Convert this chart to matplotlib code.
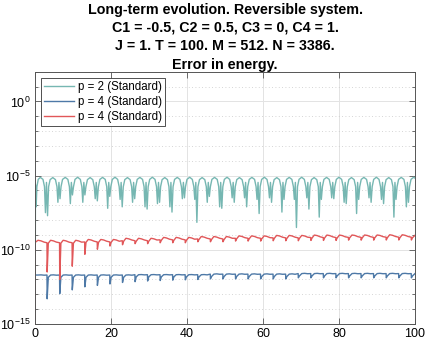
import matplotlib
matplotlib.use("Agg")
import matplotlib.pyplot as plt
from matplotlib.ticker import FixedLocator, NullFormatter

plt.rcParams['font.family'] = ['Liberation Sans', 'DejaVu Sans']
plt.rcParams['mathtext.fontset'] = 'custom'
plt.rcParams['mathtext.rm'] = 'Liberation Sans'
plt.rcParams['mathtext.it'] = 'Liberation Sans'
plt.rcParams['mathtext.default'] = 'regular'

title_lines = ["Long-term evolution. Reversible system.",
               "C1 = -0.5, C2 = 0.5, C3 = 0, C4 = 1.",
               "J = 1. T = 100. M = 512. N = 3386.",
               "Error in energy."]
legend_labels = ["p = 2 (Standard)", "p = 4 (Standard)", "p = 4 (Standard)"]
xticks = [0, 20, 40, 60, 80, 100]
yticks = [1e-15, 1e-10, 1e-5, 1e0]
ytick_labels = ["$10^{-15}$", "$10^{-10}$", "$10^{-5}$", "$10^{0}$"]

# p = 2 (teal)
teal_t = [0.0, 0.12, 0.3,
          0.5, 0.85, 1.4, 2.1, 2.5, 2.75, 3.02, 3.3,
          3.58, 3.98, 4.68, 5.38, 5.78, 6.03, 6.3, 6.58,
          6.85, 7.25, 7.95, 8.65, 9.05, 9.3, 9.57, 9.85,
          10.13, 10.53, 11.23, 11.93, 12.33, 12.58, 12.85, 13.13,
          13.4, 13.8, 14.5, 15.2, 15.6, 15.85, 16.12, 16.4,
          16.68, 17.08, 17.78, 18.48, 18.88, 19.13, 19.4, 19.68,
          19.95, 20.35, 21.05, 21.75, 22.15, 22.4, 22.67, 22.95,
          23.23, 23.63, 24.33, 25.03, 25.43, 25.68, 25.95, 26.23,
          26.5, 26.9, 27.6, 28.3, 28.7, 28.95, 29.22, 29.5,
          29.78, 30.18, 30.88, 31.58, 31.98, 32.23, 32.5, 32.78,
          33.05, 33.45, 34.15, 34.85, 35.25, 35.5, 35.77, 36.05,
          36.33, 36.73, 37.43, 38.13, 38.53, 38.78, 39.05, 39.33,
          39.6, 40.0, 40.7, 41.4, 41.8, 42.05, 42.32, 42.6,
          42.88, 43.28, 43.98, 44.68, 45.08, 45.33, 45.6, 45.88,
          46.15, 46.55, 47.25, 47.95, 48.35, 48.6, 48.87, 49.15,
          49.43, 49.83, 50.53, 51.23, 51.63, 51.88, 52.15, 52.43,
          52.7, 53.1, 53.8, 54.5, 54.9, 55.15, 55.42, 55.7,
          55.98, 56.38, 57.08, 57.78, 58.18, 58.43, 58.7, 58.98,
          59.25, 59.65, 60.35, 61.05, 61.45, 61.7, 61.97, 62.25,
          62.53, 62.93, 63.63, 64.33, 64.73, 64.98, 65.25, 65.53,
          65.8, 66.2, 66.9, 67.6, 68.0, 68.25, 68.52, 68.8,
          69.08, 69.48, 70.18, 70.88, 71.28, 71.53, 71.8, 72.08,
          72.35, 72.75, 73.45, 74.15, 74.55, 74.8, 75.07, 75.35,
          75.63, 76.03, 76.73, 77.43, 77.83, 78.08, 78.35, 78.63,
          78.9, 79.3, 80.0, 80.7, 81.1, 81.35, 81.62, 81.9,
          82.18, 82.58, 83.28, 83.98, 84.38, 84.63, 84.9, 85.18,
          85.45, 85.85, 86.55, 87.25, 87.65, 87.9, 88.17, 88.45,
          88.73, 89.13, 89.83, 90.53, 90.93, 91.18, 91.45, 91.73,
          92.0, 92.4, 93.1, 93.8, 94.2, 94.45, 94.72, 95.0,
          95.28, 95.68, 96.38, 97.08, 97.48, 97.73, 98.0, 98.28,
          98.55, 98.95, 99.65, 100.0]
teal_v = [1e-17, 2.5e-6, 7.9e-8,
          1.8e-6, 5.6e-6, 7.6e-6, 5.6e-6, 1.8e-6, 3.2e-8, 3.5e-6, 2.0e-8,
          1.8e-6, 5.4e-6, 7.4e-6, 5.4e-6, 1.8e-6, 1.6e-7, 3.5e-6, 2.8e-7,
          1.8e-6, 5.6e-6, 7.6e-6, 5.6e-6, 1.8e-6, 1.3e-7, 3.5e-6, 5.0e-7,
          1.8e-6, 5.6e-6, 7.8e-6, 5.6e-6, 1.8e-6, 1.6e-7, 3.5e-6, 5.0e-7,
          1.8e-6, 5.4e-6, 7.4e-6, 5.4e-6, 1.8e-6, 2.8e-7, 3.5e-6, 2.0e-7,
          1.8e-6, 5.6e-6, 7.6e-6, 5.6e-6, 1.8e-6, 6.3e-8, 3.5e-6, 4.0e-7,
          1.8e-6, 5.6e-6, 7.8e-6, 5.6e-6, 1.8e-6, 2.5e-7, 3.5e-6, 7.9e-8,
          1.8e-6, 5.4e-6, 7.4e-6, 5.4e-6, 1.8e-6, 1.6e-7, 3.5e-6, 2.8e-7,
          1.8e-6, 5.6e-6, 7.6e-6, 5.6e-6, 1.8e-6, 7.9e-8, 3.5e-6, 5.6e-8,
          1.8e-6, 5.6e-6, 7.8e-6, 5.6e-6, 1.8e-6, 1.3e-7, 3.5e-6, 1.6e-7,
          1.8e-6, 5.4e-6, 7.4e-6, 5.4e-6, 1.8e-6, 7.9e-8, 3.5e-6, 3.5e-8,
          1.8e-6, 5.6e-6, 7.6e-6, 5.6e-6, 1.8e-6, 2.8e-7, 3.5e-6, 3.2e-7,
          1.8e-6, 5.6e-6, 7.8e-6, 5.6e-6, 1.8e-6, 2.5e-7, 3.5e-6, 7.1e-9,
          1.8e-6, 5.4e-6, 7.4e-6, 5.4e-6, 1.8e-6, 1.6e-7, 3.5e-6, 4.0e-7,
          1.8e-6, 5.6e-6, 7.6e-6, 5.6e-6, 1.8e-6, 7.9e-8, 3.5e-6, 6.3e-8,
          1.8e-6, 5.6e-6, 7.8e-6, 5.6e-6, 1.8e-6, 3.2e-7, 3.5e-6, 1.6e-7,
          1.8e-6, 5.4e-6, 7.4e-6, 5.4e-6, 1.8e-6, 3.2e-7, 3.5e-6, 7.9e-8,
          1.8e-6, 5.6e-6, 7.6e-6, 5.6e-6, 1.8e-6, 2.5e-7, 3.5e-6, 2.8e-8,
          1.8e-6, 5.6e-6, 7.8e-6, 5.6e-6, 1.8e-6, 3.2e-7, 3.5e-6, 1.6e-7,
          1.8e-6, 5.4e-6, 7.4e-6, 5.4e-6, 1.8e-6, 3.5e-8, 3.5e-6, 2.5e-7,
          1.8e-6, 5.6e-6, 7.6e-6, 5.6e-6, 1.8e-6, 2.5e-7, 3.5e-6, 3.2e-9,
          1.8e-6, 5.6e-6, 7.8e-6, 5.6e-6, 1.8e-6, 3.2e-7, 3.5e-6, 5.6e-8,
          1.8e-6, 5.4e-6, 7.4e-6, 5.4e-6, 1.8e-6, 1.6e-8, 3.5e-6, 2.5e-7,
          1.8e-6, 5.6e-6, 7.6e-6, 5.6e-6, 1.8e-6, 3.2e-7, 3.5e-6, 2.8e-7,
          1.8e-6, 5.6e-6, 7.8e-6, 5.6e-6, 1.8e-6, 1.6e-7, 3.5e-6, 1.3e-7,
          1.8e-6, 5.4e-6, 7.4e-6, 5.4e-6, 1.8e-6, 2.8e-8, 3.5e-6, 2.5e-7,
          1.8e-6, 5.6e-6, 7.6e-6, 5.6e-6, 1.8e-6, 3.2e-7, 3.5e-6, 1.6e-7,
          1.8e-6, 5.6e-6, 7.8e-6, 5.6e-6, 1.8e-6, 2.5e-7, 3.5e-6, 1.3e-7,
          1.8e-6, 5.4e-6, 7.4e-6, 5.4e-6, 1.8e-6, 1.6e-8, 3.5e-6, 2.5e-7,
          1.8e-6, 5.6e-6, 7.6e-6, 5.6e-6, 1.8e-6, 7.9e-8, 3.5e-6, 1.6e-7,
          1.8e-6, 5.6e-6, 7.8e-6, 6.8e-6]

# p = 4 (shared time grid for blue and red)
p4_t = [0.0, 0.05, 0.8, 1.6, 2.4,
        3.15, 3.2, 3.5, 4.1, 4.85, 5.65,
        6.46, 6.51, 6.81, 7.41, 8.16, 8.96,
        9.76, 9.81, 10.11, 10.71, 11.46, 12.26,
        13.07, 13.12, 13.42, 14.02, 14.77, 15.57,
        16.37, 16.42, 16.72, 17.32, 18.07, 18.87,
        19.68, 19.73, 20.03, 20.63, 21.38, 22.18,
        22.98, 23.03, 23.33, 23.93, 24.68, 25.48,
        26.29, 26.34, 26.64, 27.24, 27.99, 28.79,
        29.59, 29.64, 29.94, 30.54, 31.29, 32.09,
        32.9, 32.95, 33.25, 33.85, 34.6, 35.4,
        36.2, 36.25, 36.55, 37.15, 37.9, 38.7,
        39.51, 39.56, 39.86, 40.46, 41.21, 42.01,
        42.81, 42.86, 43.16, 43.76, 44.51, 45.31,
        46.12, 46.17, 46.47, 47.07, 47.82, 48.62,
        49.42, 49.47, 49.77, 50.37, 51.12, 51.92,
        52.73, 52.78, 53.08, 53.68, 54.43, 55.23,
        56.03, 56.08, 56.38, 56.98, 57.73, 58.53,
        59.34, 59.39, 59.69, 60.29, 61.04, 61.84,
        62.64, 62.69, 62.99, 63.59, 64.34, 65.14,
        65.95, 66.0, 66.3, 66.9, 67.65, 68.45,
        69.25, 69.3, 69.6, 70.2, 70.95, 71.75,
        72.56, 72.61, 72.91, 73.51, 74.26, 75.06,
        75.86, 75.91, 76.21, 76.81, 77.56, 78.36,
        79.17, 79.22, 79.52, 80.12, 80.87, 81.67,
        82.47, 82.52, 82.82, 83.42, 84.17, 84.97,
        85.78, 85.83, 86.13, 86.73, 87.48, 88.28,
        89.08, 89.13, 89.43, 90.03, 90.78, 91.58,
        92.39, 92.44, 92.74, 93.34, 94.09, 94.89,
        95.69, 95.74, 96.04, 96.64, 97.39, 98.19,
        99.0, 99.05, 99.35, 100.0]

blue_v = [1e-17, 2.0e-12, 2.0e-12, 2.05e-12, 1.95e-12,
          2.0e-12, 5.0e-14, 1.4e-12, 2.0e-12, 2.05e-12, 1.95e-12,
          2.0e-12, 1.1e-13, 1.4e-12, 2.0e-12, 2.05e-12, 1.95e-12,
          2.0e-12, 2.0e-13, 1.4e-12, 2.0e-12, 2.05e-12, 1.95e-12,
          2.0e-12, 3.2e-13, 1.4e-12, 2.0e-12, 2.05e-12, 1.95e-12,
          2.0e-12, 4.0e-13, 1.4e-12, 2.0e-12, 2.05e-12, 1.95e-12,
          2.0e-12, 5.0e-13, 1.4e-12, 2.0e-12, 2.05e-12, 1.95e-12,
          2.0e-12, 6.3e-13, 1.4e-12, 2.0e-12, 2.05e-12, 1.95e-12,
          2.1e-12, 7.1e-13, 1.5e-12, 2.1e-12, 2.15e-12, 2.05e-12,
          2.1e-12, 7.9e-13, 1.5e-12, 2.1e-12, 2.15e-12, 2.05e-12,
          2.1e-12, 8.5e-13, 1.5e-12, 2.1e-12, 2.15e-12, 2.05e-12,
          2.1e-12, 9.0e-13, 1.5e-12, 2.1e-12, 2.15e-12, 2.05e-12,
          2.1e-12, 9.5e-13, 1.5e-12, 2.1e-12, 2.15e-12, 2.05e-12,
          2.1e-12, 1.0e-12, 1.5e-12, 2.1e-12, 2.15e-12, 2.05e-12,
          2.3e-12, 1.1e-12, 1.6e-12, 2.3e-12, 2.4e-12, 2.25e-12,
          2.3e-12, 1.1e-12, 1.6e-12, 2.3e-12, 2.4e-12, 2.25e-12,
          2.3e-12, 1.1e-12, 1.6e-12, 2.3e-12, 2.4e-12, 2.25e-12,
          2.3e-12, 1.1e-12, 1.6e-12, 2.3e-12, 2.4e-12, 2.25e-12,
          2.3e-12, 1.1e-12, 1.6e-12, 2.3e-12, 2.4e-12, 2.25e-12,
          2.3e-12, 1.1e-12, 1.6e-12, 2.3e-12, 2.4e-12, 2.25e-12,
          2.3e-12, 1.1e-12, 1.6e-12, 2.3e-12, 2.4e-12, 2.25e-12,
          2.5e-12, 1.3e-12, 1.75e-12, 2.5e-12, 2.6e-12, 2.45e-12,
          2.5e-12, 1.3e-12, 1.75e-12, 2.5e-12, 2.6e-12, 2.45e-12,
          2.5e-12, 1.3e-12, 1.75e-12, 2.5e-12, 2.6e-12, 2.45e-12,
          2.5e-12, 1.3e-12, 1.75e-12, 2.5e-12, 2.6e-12, 2.45e-12,
          2.5e-12, 1.3e-12, 1.75e-12, 2.5e-12, 2.6e-12, 2.45e-12,
          2.5e-12, 1.3e-12, 1.75e-12, 2.5e-12, 2.6e-12, 2.45e-12,
          2.5e-12, 1.3e-12, 1.75e-12, 2.5e-12, 2.6e-12, 2.45e-12,
          2.5e-12, 1.3e-12, 1.75e-12, 2.5e-12, 2.6e-12, 2.45e-12,
          2.5e-12, 1.3e-12, 1.75e-12, 2.5e-12, 2.6e-12, 2.45e-12,
          2.5e-12, 1.3e-12, 1.75e-12, 2.5e-12]

red_v = [1e-17, 3.2e-10, 4.4e-10, 4.0e-10, 3.3e-10,
         3.0e-10, 3.2e-12, 2.8e-10, 4.4e-10, 4.0e-10, 3.3e-10,
         3.0e-10, 1.0e-12, 2.8e-10, 4.4e-10, 4.0e-10, 3.3e-10,
         3.0e-10, 7.9e-12, 2.8e-10, 4.4e-10, 4.0e-10, 3.3e-10,
         3.4e-10, 5.0e-11, 3.2e-10, 5.0e-10, 4.6e-10, 3.8e-10,
         3.4e-10, 1.1e-10, 3.2e-10, 5.0e-10, 4.6e-10, 3.8e-10,
         3.4e-10, 1.8e-10, 3.2e-10, 5.0e-10, 4.6e-10, 3.8e-10,
         4.1e-10, 2.2e-10, 3.8e-10, 6.0e-10, 5.5e-10, 4.6e-10,
         4.1e-10, 2.6e-10, 3.8e-10, 6.0e-10, 5.5e-10, 4.6e-10,
         4.1e-10, 2.6e-10, 3.8e-10, 6.0e-10, 5.5e-10, 4.6e-10,
         4.7e-10, 3.0e-10, 4.4e-10, 6.9e-10, 6.3e-10, 5.2e-10,
         4.7e-10, 3.0e-10, 4.4e-10, 6.9e-10, 6.3e-10, 5.2e-10,
         4.7e-10, 3.0e-10, 4.4e-10, 6.9e-10, 6.3e-10, 5.2e-10,
         5.4e-10, 3.5e-10, 5.0e-10, 7.9e-10, 7.2e-10, 6.0e-10,
         5.4e-10, 3.5e-10, 5.0e-10, 7.9e-10, 7.2e-10, 6.0e-10,
         5.4e-10, 3.5e-10, 5.0e-10, 7.9e-10, 7.2e-10, 6.0e-10,
         6.0e-10, 3.9e-10, 5.6e-10, 8.7e-10, 8.0e-10, 6.6e-10,
         6.0e-10, 3.9e-10, 5.6e-10, 8.7e-10, 8.0e-10, 6.6e-10,
         6.0e-10, 3.9e-10, 5.6e-10, 8.7e-10, 8.0e-10, 6.6e-10,
         6.4e-10, 4.1e-10, 6.0e-10, 9.4e-10, 8.6e-10, 7.1e-10,
         6.4e-10, 4.1e-10, 6.0e-10, 9.4e-10, 8.6e-10, 7.1e-10,
         6.4e-10, 4.1e-10, 6.0e-10, 9.4e-10, 8.6e-10, 7.1e-10,
         6.7e-10, 4.3e-10, 6.3e-10, 9.9e-10, 9.1e-10, 7.5e-10,
         6.7e-10, 4.3e-10, 6.3e-10, 9.9e-10, 9.1e-10, 7.5e-10,
         6.7e-10, 4.3e-10, 6.3e-10, 9.9e-10, 9.1e-10, 7.5e-10,
         6.9e-10, 4.5e-10, 6.5e-10, 1.0e-9, 9.3e-10, 7.7e-10,
         6.9e-10, 4.5e-10, 6.5e-10, 1.0e-9, 9.3e-10, 7.7e-10,
         6.9e-10, 4.5e-10, 6.5e-10, 1.0e-9, 9.3e-10, 7.7e-10,
         7.1e-10, 4.6e-10, 6.6e-10, 1.04e-9, 9.5e-10, 7.9e-10,
         7.1e-10, 4.6e-10, 6.6e-10, 1.04e-9, 9.5e-10, 7.9e-10,
         7.1e-10, 4.6e-10, 6.6e-10, 9.5e-10]

colors = ['#76b7b2', '#4e79a7', '#e15759']

fig = plt.figure(figsize=(4.25, 3.43), dpi=100)
ax = fig.add_axes([35/425, 1 - 324/343, 380/425, (324 - 71.8)/343])

ax.plot(teal_t, teal_v, color=colors[0], lw=1.0, label=legend_labels[0])
ax.plot(p4_t, blue_v, color=colors[1], lw=1.0, label=legend_labels[1])
ax.plot(p4_t, red_v, color=colors[2], lw=1.0, label=legend_labels[2])

ax.set_yscale('log')
ax.set_xlim(0, 100)
ax.set_ylim(1e-15, 1e2)
ax.set_xticks(xticks)
ax.set_xticklabels([str(v) for v in xticks])
ax.yaxis.set_major_locator(FixedLocator(yticks))
ax.set_yticklabels(ytick_labels)
ax.yaxis.set_minor_locator(FixedLocator([10.0**k for k in range(-15, 3)]))
ax.yaxis.set_minor_formatter(NullFormatter())

axcol = '#555555'
for s in ax.spines.values():
    s.set_color(axcol)
    s.set_linewidth(0.7)
ax.tick_params(which='both', direction='in', top=True, right=True,
               colors=axcol, labelcolor='black', labelsize=9, width=0.6)
ax.tick_params(which='major', length=4, pad=3)
ax.tick_params(which='minor', length=2.5)

ax.grid(True, which='major', color='#e3e3e3', lw=0.7, ls='-')
ax.grid(True, which='minor', axis='y', color='#c8c8c8', lw=0.6, ls=(0, (1, 3)))
ax.set_axisbelow(True)

ax.set_title("\n".join(title_lines), fontsize=10.3, fontweight='bold',
             linespacing=1.4, pad=1.5)

leg = ax.legend(loc='upper left', fontsize=8.3, fancybox=False, framealpha=1,
                edgecolor='#333333', handlelength=2.6, handletextpad=0.3,
                borderaxespad=0.5, borderpad=0.3, labelspacing=0.25)
leg.get_frame().set_linewidth(0.6)

fig.savefig('out.png', dpi=100)
